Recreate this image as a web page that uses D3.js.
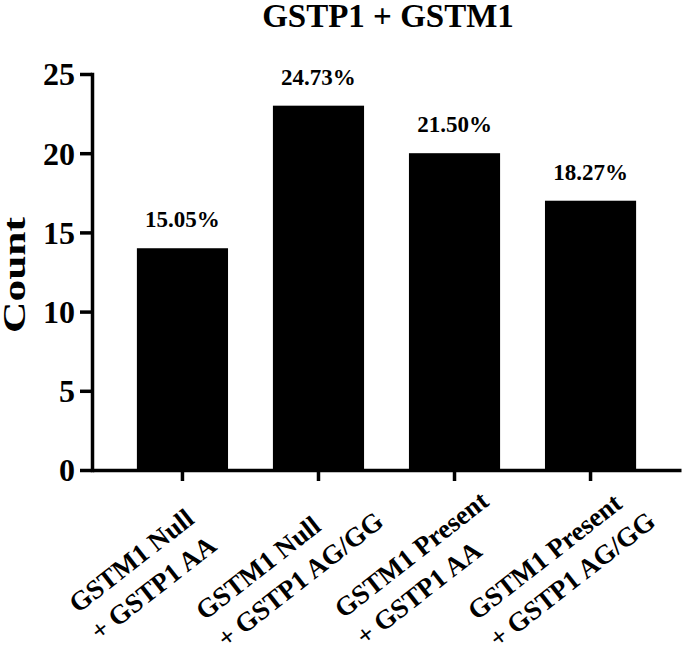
<!DOCTYPE html>
<html><head><meta charset="utf-8">
<script src="https://cdn.jsdelivr.net/npm/d3@7"></script>
<style>
body{margin:0;background:#fff}
text{font-family:"Liberation Serif","Times New Roman",serif;font-weight:bold;fill:#000}
</style>
</head><body>
<svg id="c" width="685" height="646"></svg>
<script>
// ---- data ----
const categoryLines = [
  ["GSTM1 Null", "+ GSTP1 AA"],
  ["GSTM1 Null", "+ GSTP1 AG/GG"],
  ["GSTM1 Present", "+ GSTP1 AA"],
  ["GSTM1 Present", "+ GSTP1 AG/GG"]
];
const categories = categoryLines.map(l => l.join(" "));
const counts = [14, 23, 20, 17];
const percentLabels = ["15.05%", "24.73%", "21.50%", "18.27%"];
const yTicks = [0, 5, 10, 15, 20, 25];
const titleText = "GSTP1 + GSTM1";
const yAxisTitle = "Count";

// ---- chart ----
const svg = d3.select("#c");
const x = d3.scaleBand().domain(categories).range([92, 681]).paddingInner(0.33).paddingOuter(0.33);
const y = d3.scaleLinear().domain([0, 25]).range([470, 74]);

svg.append("text").attr("x", 388).attr("y", 27).attr("text-anchor", "middle")
  .style("font-size", "33px").text(titleText);

// bars
svg.append("g").selectAll("rect").data(categories).join("rect")
  .attr("x", d => x(d)).attr("width", x.bandwidth())
  .attr("y", (d, i) => y(counts[i])).attr("height", (d, i) => y(0) - y(counts[i]))
  .attr("fill", "#000");

// percent labels
svg.append("g").selectAll("text").data(categories).join("text")
  .attr("x", d => x(d) + x.bandwidth() / 2)
  .attr("y", (d, i) => y(counts[i]) - 21)
  .attr("text-anchor", "middle").style("font-size", "23px")
  .text((d, i) => percentLabels[i]);

// y axis
const ya = svg.append("g").attr("transform", "translate(92,0)")
  .call(d3.axisLeft(y).tickValues(yTicks).tickSize(12).tickSizeOuter(0).tickPadding(5));
ya.selectAll("text").style("font-size", "32px").attr("dy", "0.34em")
  .style("font-family", '"Liberation Serif","Times New Roman",serif');
ya.selectAll("line").attr("stroke", "#000").attr("stroke-width", 3.5);
ya.select(".domain").attr("stroke", "#000").attr("stroke-width", 3.5).attr("stroke-linecap", "square");

// x axis
const xa = svg.append("g").attr("transform", "translate(0,470)")
  .call(d3.axisBottom(x).tickSize(11).tickSizeOuter(0));
xa.selectAll("text").remove();
xa.selectAll("line").attr("stroke", "#000").attr("stroke-width", 3.5);
xa.select(".domain").attr("stroke", "#000").attr("stroke-width", 3.5);

// rotated multi-line x labels (left-aligned lines)
const lab = svg.append("g").selectAll("g").data(categories).join("g")
  .attr("transform", d => `translate(${x(d) + x.bandwidth() / 2},470) rotate(-38)`);
const labText = lab.append("text").attr("text-anchor", "start").style("font-size", "27px");
labText.selectAll("tspan").data((d, i) => categoryLines[i]).join("tspan")
  .attr("x", 0).attr("y", (t, j) => 49 + j * 35).text(t => t);
labText.each(function () {
  const spans = d3.select(this).selectAll("tspan").nodes();
  const maxL = d3.max(spans, s => s.getComputedTextLength());
  d3.select(this).selectAll("tspan").attr("x", -(136.3 + 0.23 * maxL));
});

// y axis title
svg.append("text").attr("transform", "translate(25,275) rotate(-90)")
  .attr("text-anchor", "middle").style("font-size", "32px")
  .attr("textLength", 116).attr("lengthAdjust", "spacingAndGlyphs")
  .text(yAxisTitle);
</script>
</body></html>
